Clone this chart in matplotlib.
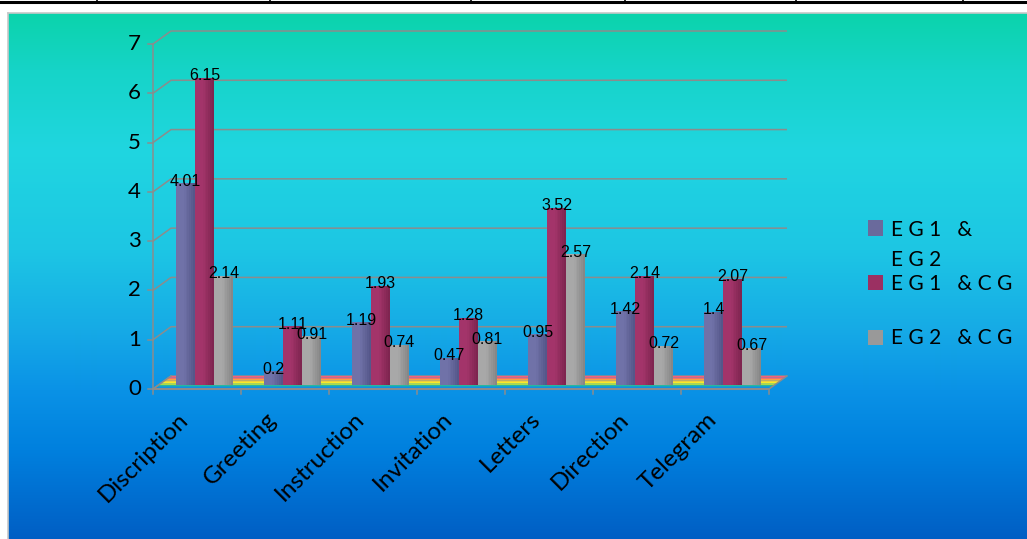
import numpy as np
import matplotlib
matplotlib.use("Agg")
import matplotlib.pyplot as plt
from matplotlib.colors import to_rgb
from matplotlib.transforms import Affine2D
from matplotlib.patches import Polygon, Rectangle
from matplotlib.lines import Line2D

# ---- data ----
categories = ["Discription", "Greeting", "Instruction", "Invitation",
              "Letters", "Direction", "Telegram"]
eg1_eg2 = [4.01, 0.2, 1.19, 0.47, 0.95, 1.42, 1.4]
eg1_cg = [6.15, 1.11, 1.93, 1.28, 3.52, 2.14, 2.07]
eg2_cg = [2.14, 0.91, 0.74, 0.81, 2.57, 0.72, 0.67]
series_labels = ["E G 1   &\nE G 2", "E G 1   & C G", "E G 2   & C G"]
y_ticks = [0, 1, 2, 3, 4, 5, 6, 7]

# ---- styling ----
face_light = ["#7072a8", "#a3346a", "#a8a8a8"]
face_dark = ["#55578a", "#7f2550", "#878787"]
legend_colors = ["#6a6a9c", "#9b3062", "#999999"]
grid_color = "#8c8c8c"
label_font = "Lato"
value_font = "Liberation Sans"

W, H = 1027, 539
fig = plt.figure(figsize=(W / 100, H / 100), dpi=100)
fig.patch.set_facecolor("white")


def fx(px):
    return px / W


def fy(py):
    return 1 - py / H


# ---- gradient panel behind the chart ----
bg = fig.add_axes([fx(8), 0, 1 - fx(8), fy(13)])
stops_y = [13, 70, 150, 250, 330, 390, 450, 539]
stops_c = ["#0bd3ab", "#16d4c8", "#20d6e0", "#1dc6e4", "#16aae6",
           "#0a92e6", "#0080de", "#005ec4"]
rows = np.arange(13, H)
rgb = np.array([to_rgb(c) for c in stops_c])
grad = np.stack([np.interp(rows, stops_y, rgb[:, k]) for k in range(3)], axis=-1)
grad = np.repeat(grad[:, None, :], 2, axis=1)
bg.imshow(grad, aspect="auto", extent=[0, 1, 0, 1], interpolation="bilinear")
bg.set_axis_off()

# panel border and the table rule above it
fig.add_artist(Line2D([fx(7.5), fx(7.5)], [0, fy(12.5)], color="#c8c8c8", lw=1.2))
fig.add_artist(Line2D([fx(7.5), 1], [fy(12.5), fy(12.5)], color="#c8c8c8", lw=1.2))
fig.add_artist(Line2D([0, 1], [fy(2), fy(2)], color="black", lw=2.2))
for xv in [97, 270, 471, 625, 796, 963]:
    fig.add_artist(Line2D([fx(xv), fx(xv)], [fy(0), fy(3)], color="black", lw=1.2))

# ---- main plotting axes (front plane of the 3-D box) ----
x0, x1, y0, y1 = 153, 769, 389, 44
ax = fig.add_axes([fx(x0), fy(y0), fx(x1) - fx(x0), fy(y1) - fy(y0)])
ax.set_xlim(-0.5, len(categories) - 0.5)
ax.set_ylim(0, 7)
ax.set_axis_off()
ax.patch.set_alpha(0)

PX = (x1 - x0) / len(categories)
PY = (y0 - y1) / 7.0
DX, DY = 18 / PX, 13 / PY          # depth of the box in data units
xl, xr = -0.5, len(categories) - 0.5

# back-wall gridlines with the side-wall diagonals
for v in y_ticks:
    ax.plot([xl, xl + DX, xr + DX], [v, v + DY, v + DY], color=grid_color,
            lw=1.1, zorder=1, solid_capstyle="butt")
    ax.plot([xl - 5 / PX, xl], [v, v], color=grid_color, lw=1.1, zorder=1)
    ax.text(xl - 12 / PX, v, str(v), ha="right", va="center", fontsize=16,
            family=label_font, color="black")
ax.plot([xl, xl], [0, 7], color=grid_color, lw=1.1, zorder=1)

# floor with rainbow shading
floor_colors = ["#2ab79c", "#b8e040", "#f8ea2a", "#fcd432", "#fca040", "#f87068", "#f5607a"]
t_edges = np.linspace(0.2, 1.0, len(floor_colors) + 1)
for c, t0, t1 in zip(floor_colors, t_edges[:-1], t_edges[1:]):
    ax.add_patch(Polygon([(xl + t0 * DX, t0 * DY), (xr + t0 * DX, t0 * DY),
                          (xr + t1 * DX, t1 * DY), (xl + t1 * DX, t1 * DY)],
                         closed=True, facecolor=c, edgecolor="none", zorder=2))
ax.plot([xl, xl + DX], [0, DY], color=grid_color, lw=1.1, zorder=2)
ax.plot([xr, xr + DX], [0, DY], color=grid_color, lw=1.1, zorder=2)

# category axis
ax.plot([xl, xr], [0, 0], color=grid_color, lw=1.5, zorder=2)
for b in np.arange(xl, xr + 0.01, 1.0):
    ax.plot([b, b], [0, -5 / PY], color=grid_color, lw=1.1, zorder=2)
for i, cat in enumerate(categories):
    ax.text(i - 12 / PX, -27 / PY, cat, rotation=45, rotation_mode="anchor",
            ha="right", va="center", fontsize=17.5, family=label_font, color="black")

# ---- bars (drawn at mid depth) ----
mid = ax.transData + Affine2D().translate(7.5, 8)
lab = ax.transData + Affine2D().translate(7.5, 10)
bw = 19 / PX
ext = 4 / PY
nstrip = 10
xs_base = np.arange(len(categories))
for s, vals in enumerate([eg1_eg2, eg1_cg, eg2_cg]):
    vals = np.asarray(vals)
    xs = xs_base + (s - 1) * bw
    cl, cd = np.array(to_rgb(face_light[s])), np.array(to_rgb(face_dark[s]))
    for k in range(nstrip):
        f = k / (nstrip - 1)
        w_mix = max(0.0, (f - 0.35) / 0.65) ** 1.2
        col = cl * (1 - w_mix) + cd * w_mix
        left = xs - bw / 2 + k * bw / nstrip
        bars = ax.bar(left, vals + ext, bottom=-ext, width=bw - k * bw / nstrip,
                      align="edge", color=col, linewidth=0, zorder=3 + s * 0.01)
        for p in bars:
            p.set_transform(mid)
    for x, v in zip(xs, vals):
        ax.text(x, v, str(v), ha="center", va="center", fontsize=11.5,
                family=value_font, color="black", transform=lab, zorder=6)

for art in ax.get_children():
    art.set_clip_on(False)

# ---- legend ----
entry_y = [228, 282, 337]
line_px = 30
for lbl, col, cy in zip(series_labels, legend_colors, entry_y):
    fig.add_artist(Rectangle((fx(868), fy(cy + 7.5)), fx(15), 15 / H,
                             transform=fig.transFigure, facecolor=col,
                             edgecolor="none"))
    lines = lbl.split("\n")
    for j, line in enumerate(lines):
        fig.text(fx(891), fy(cy + 7.5 + j * line_px), line, ha="left",
                 va="baseline", fontsize=15, family=label_font, color="black")

fig.savefig("out.png", dpi=100)
